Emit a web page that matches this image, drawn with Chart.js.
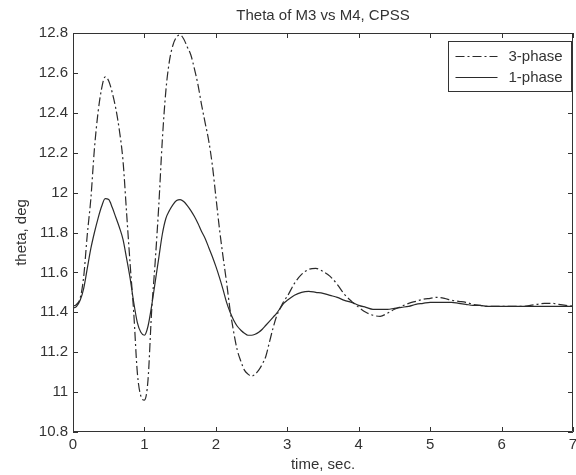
<!DOCTYPE html>
<html>
<head>
<meta charset="utf-8">
<script src="https://cdn.jsdelivr.net/npm/chart.js@4.4.0/dist/chart.umd.min.js"></script>
<style>
  html, body { margin: 0; padding: 0; background: #fff; overflow: hidden; }
</style>
</head>
<body>
<canvas id="chart" width="586" height="475"></canvas>
<script>
// time axis (sec.)
const time = [
  0, 0.05, 0.1, 0.15, 0.2, 0.25, 0.3, 0.35, 0.4, 0.45,
  0.5, 0.55, 0.6, 0.65, 0.7, 0.75, 0.8, 0.85, 0.9, 0.95,
  1, 1.05, 1.1, 1.15, 1.2, 1.25, 1.3, 1.35, 1.4, 1.45,
  1.5, 1.55, 1.6, 1.65, 1.7, 1.75, 1.8, 1.85, 1.9, 1.95,
  2, 2.05, 2.1, 2.15, 2.2, 2.25, 2.3, 2.35, 2.4, 2.45,
  2.5, 2.55, 2.6, 2.65, 2.7, 2.75, 2.8, 2.85, 2.9, 2.95,
  3, 3.1, 3.2, 3.3, 3.4, 3.5, 3.6, 3.7, 3.8, 3.9,
  4, 4.1, 4.2, 4.3, 4.4, 4.5, 4.6, 4.7, 4.8, 4.9,
  5, 5.1, 5.2, 5.3, 5.4, 5.5, 5.6, 5.7, 5.8, 5.9,
  6, 6.1, 6.2, 6.3, 6.4, 6.5, 6.6, 6.7, 6.8, 6.9,
  7
];

// theta, deg - 3-phase fault
const threePhase = [
  11.43, 11.44, 11.47, 11.58, 11.79, 11.97, 12.22, 12.40, 12.52, 12.58,
  12.56, 12.50, 12.42, 12.31, 12.16, 11.90, 11.64, 11.40, 11.10, 10.98,
  10.96, 11.06, 11.40, 11.65, 11.93, 12.26, 12.51, 12.66, 12.74, 12.78,
  12.79, 12.77, 12.73, 12.69, 12.62, 12.54, 12.44, 12.35, 12.26, 12.14,
  11.98, 11.82, 11.68, 11.55, 11.41, 11.30, 11.21, 11.155, 11.11, 11.09,
  11.08, 11.09, 11.11, 11.14, 11.18, 11.25, 11.32, 11.38, 11.42, 11.455,
  11.48, 11.545, 11.59, 11.615, 11.62, 11.605, 11.58, 11.54, 11.49, 11.455,
  11.425, 11.40, 11.385, 11.38, 11.395, 11.415, 11.43, 11.445, 11.455, 11.465,
  11.47, 11.475, 11.47, 11.46, 11.455, 11.45, 11.44, 11.435, 11.43, 11.43,
  11.43, 11.43, 11.43, 11.43, 11.435, 11.44, 11.445, 11.445, 11.44, 11.435,
  11.43
];

// theta, deg - 1-phase fault
const onePhase = [
  11.42, 11.43, 11.46, 11.52, 11.62, 11.72, 11.80, 11.87, 11.93, 11.97,
  11.965, 11.925, 11.875, 11.825, 11.765, 11.67, 11.57, 11.45, 11.35, 11.30,
  11.285, 11.33, 11.43, 11.55, 11.67, 11.79, 11.87, 11.91, 11.94, 11.96,
  11.965, 11.955, 11.935, 11.91, 11.88, 11.845, 11.805, 11.77, 11.725, 11.68,
  11.63, 11.575, 11.515, 11.45, 11.40, 11.36, 11.33, 11.31, 11.295, 11.285,
  11.285, 11.29, 11.30, 11.315, 11.335, 11.355, 11.375, 11.395, 11.42, 11.445,
  11.46, 11.485, 11.50, 11.505, 11.50, 11.495, 11.485, 11.475, 11.46, 11.45,
  11.435, 11.425, 11.415, 11.415, 11.415, 11.42, 11.425, 11.43, 11.44, 11.445,
  11.45, 11.45, 11.45, 11.45, 11.445, 11.44, 11.435, 11.435, 11.43, 11.43,
  11.43, 11.43, 11.43, 11.43, 11.43, 11.43, 11.43, 11.43, 11.43, 11.43,
  11.43
];

const seriesNames = ["3-phase", "1-phase"];

const ink = "#333";
const font = { family: "'Liberation Sans', Arial, sans-serif", size: 15 };

const toPoints = vals => vals.map((v, i) => ({ x: time[i], y: v }));

// matlab style box with inward ticks on all sides
const axesBox = {
  id: "axesBox",
  afterDatasetsDraw(chart) {
    const { ctx, chartArea: a, scales: { x, y } } = chart;
    const tick = 5;
    ctx.save();
    ctx.strokeStyle = ink;
    ctx.lineWidth = 1;
    ctx.beginPath();
    ctx.rect(Math.round(a.left) + 0.5, Math.round(a.top) + 0.5,
             Math.round(a.width) - 1, Math.round(a.height) - 1);
    x.ticks.forEach(t => {
      const px = Math.round(x.getPixelForValue(t.value)) + 0.5;
      ctx.moveTo(px, a.bottom); ctx.lineTo(px, a.bottom - tick);
      ctx.moveTo(px, a.top); ctx.lineTo(px, a.top + tick);
    });
    y.ticks.forEach(t => {
      const py = Math.round(y.getPixelForValue(t.value)) + 0.5;
      ctx.moveTo(a.left, py); ctx.lineTo(a.left + tick, py);
      ctx.moveTo(a.right, py); ctx.lineTo(a.right - tick, py);
    });
    ctx.stroke();
    ctx.restore();
  }
};

// legend box inside the axes, top right
const boxLegend = {
  id: "boxLegend",
  afterDraw(chart) {
    const { ctx, chartArea: a } = chart;
    const w = 123, h = 50;
    const left = Math.round(a.right) - w - 1.5, top = Math.round(a.top) + 8.5;
    ctx.save();
    ctx.fillStyle = "#fff";
    ctx.fillRect(left, top, w, h);
    ctx.strokeStyle = ink;
    ctx.lineWidth = 1;
    ctx.strokeRect(left, top, w, h);
    ctx.font = `${font.size}px ${font.family}`;
    ctx.textBaseline = "middle";
    ctx.textAlign = "left";
    chart.data.datasets.forEach((ds, i) => {
      const cy = top + 15 + i * 21;
      ctx.strokeStyle = ds.borderColor;
      ctx.lineWidth = ds.borderWidth;
      ctx.setLineDash(ds.borderDash || []);
      ctx.beginPath();
      ctx.moveTo(left + 7, cy);
      ctx.lineTo(left + 49, cy);
      ctx.stroke();
      ctx.setLineDash([]);
      ctx.fillStyle = ink;
      ctx.fillText(ds.label, left + 60, cy);
    });
    ctx.restore();
  }
};

new Chart(document.getElementById("chart"), {
  type: "line",
  data: {
    datasets: [
      {
        label: seriesNames[0],
        data: toPoints(threePhase),
        borderColor: "#2a2a2a",
        borderWidth: 1.2,
        borderDash: [9, 3, 2, 3],
        pointRadius: 0,
        cubicInterpolationMode: "monotone"
      },
      {
        label: seriesNames[1],
        data: toPoints(onePhase),
        borderColor: "#2a2a2a",
        borderWidth: 1.2,
        pointRadius: 0,
        cubicInterpolationMode: "monotone"
      }
    ]
  },
  options: {
    responsive: false,
    animation: false,
    layout: { padding: { left: 0, right: 13, top: 0, bottom: 0 } },
    plugins: {
      legend: { display: false },
      tooltip: { enabled: false }
    },
    scales: {
      x: {
        type: "linear",
        min: 0,
        max: 7,
        ticks: { stepSize: 1, color: ink, font, padding: 4, maxRotation: 0 },
        grid: { display: false, drawTicks: false },
        border: { display: false },
        title: { display: true, text: "time, sec.", color: ink, font, padding: { top: 0, bottom: 1 } },
        afterFit: s => { s.height = 43; }
      },
      // top axis only carries the plot title, centred over the axes
      top: {
        type: "linear",
        position: "top",
        min: 0,
        max: 7,
        ticks: { display: false },
        grid: { display: false, drawTicks: false },
        border: { display: false },
        title: { display: true, text: "Theta of M3 vs M4, CPSS", color: ink, font, padding: { top: 7, bottom: 0 } },
        afterFit: s => { s.height = 33; }
      },
      y: {
        min: 10.8,
        max: 12.8,
        ticks: {
          stepSize: 0.2,
          color: ink,
          font,
          padding: 5,
          callback: v => String(+v.toFixed(1))
        },
        grid: { display: false, drawTicks: false },
        border: { display: false },
        title: { display: true, text: "theta, deg", color: ink, font, padding: { top: 13, bottom: 0 } },
        afterFit: s => { s.width = 73; }
      }
    }
  },
  plugins: [axesBox, boxLegend]
});
</script>
</body>
</html>
